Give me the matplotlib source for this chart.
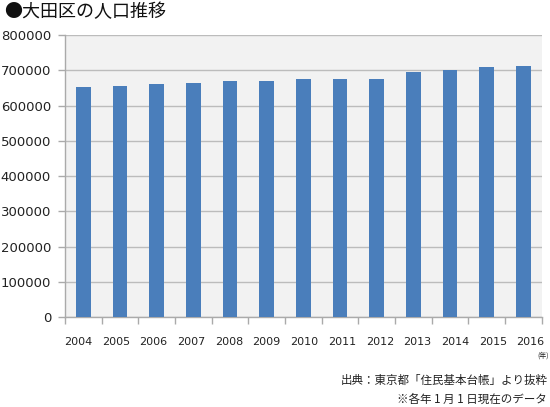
import matplotlib
matplotlib.use("Agg")
import matplotlib.pyplot as plt
import numpy as np

plt.rcParams['font.family'] = ['Noto Sans CJK JP', 'DejaVu Sans']

years = ["2004", "2005", "2006", "2007", "2008", "2009", "2010",
         "2011", "2012", "2013", "2014", "2015", "2016"]
population = [651800, 656700, 661500, 665000, 668800, 670800, 675600,
              675600, 676500, 696300, 700000, 708500, 713300]
yticks = [0, 100000, 200000, 300000, 400000, 500000, 600000, 700000, 800000]

fig = plt.figure(figsize=(5.5, 4.07), dpi=100)
W, H = 550, 407
ax = fig.add_axes([65 / W, 1 - 317.3 / H, (541.7 - 65) / W, (317.3 - 35) / H])
ax.set_facecolor('#f2f2f2')

x = np.arange(len(years))
ax.bar(x, population, width=0.4, color='#4a7ebb', zorder=3)
ax.set_xlim(-0.5, len(years) - 0.5)
ax.set_ylim(0, 800000)
ax.set_yticks(yticks)
ax.set_yticklabels([str(v) for v in yticks], fontsize=9.5, color='#222222',
                   family='DejaVu Sans')
ax.yaxis.grid(True, color='#bcbcbc', linewidth=1, zorder=0)
# category labels are spread slightly wider than the bars in the reference
ax.set_xticks(-0.14 + x * 1.028)
ax.set_xticklabels(years, fontsize=8, color='#222222', family='DejaVu Sans')
ax.tick_params(axis='x', length=0, pad=14)
ax.set_xticks(np.arange(len(years) + 1) - 0.5, minor=True)
ax.tick_params(axis='x', which='minor', length=5, color='#aaaaaa', width=1)
ax.tick_params(axis='y', length=5, color='#aaaaaa', width=1, pad=5)
for s in ['top', 'right']:
    ax.spines[s].set_visible(False)
for s in ['left', 'bottom']:
    ax.spines[s].set_color('#aaaaaa')
    ax.spines[s].set_linewidth(1)

fig.text(4 / W, 1 - 12 / H, "●大田区の人口推移", fontsize=13, va='center', ha='left', color='#111111')
fig.text(543 / W, 1 - 356 / H, "(年)", fontsize=5, va='center', ha='center', color='#222222')
fig.text(548 / W, 1 - 380 / H, "出典：東京都「住民基本台帳」より抜粋", fontsize=8.3, va='center', ha='right', color='#222222')
fig.text(547 / W, 1 - 399 / H, "※各年 1 月 1 日現在のデータ", fontsize=8.3, va='center', ha='right', color='#222222')

fig.savefig("out.png", dpi=100)
